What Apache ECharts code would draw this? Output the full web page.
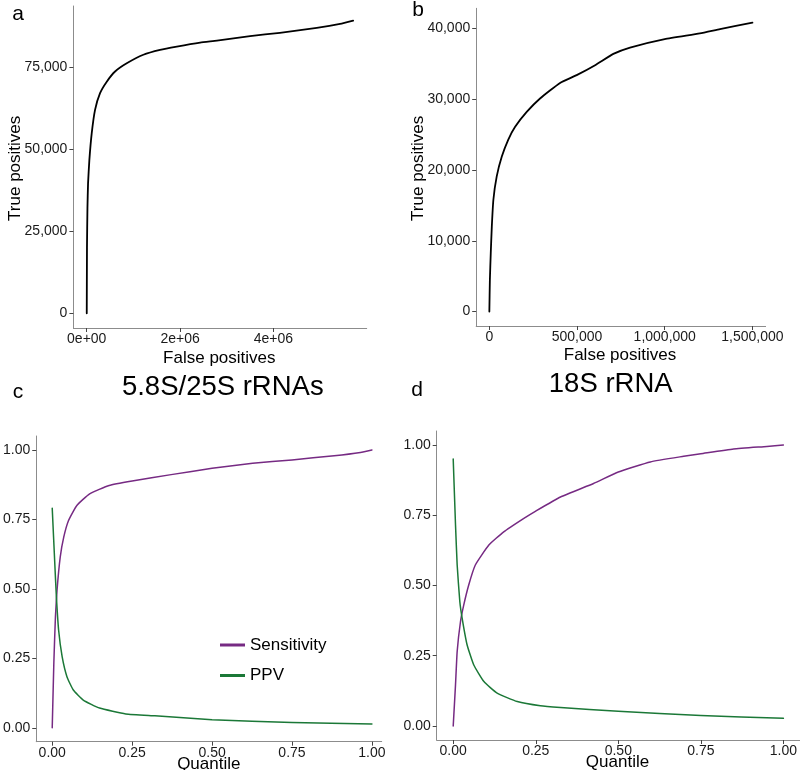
<!DOCTYPE html>
<html>
<head>
<meta charset="utf-8">
<script src="https://cdn.jsdelivr.net/npm/echarts@6/dist/echarts.min.js"></script>
<style>
html,body{margin:0;padding:0;background:#fff;}
#chart{width:800px;height:770px;}
</style>
</head>
<body>
<div id="chart"></div>
<script>
// ---- Panel a: 5.8S/25S rRNAs, true vs false positives ----
const fpA = [0, 5000, 15000, 28000, 56000, 107000, 178000, 285000, 429000, 607000, 857000, 1213000, 1571000, 1930000, 2430000, 2790000, 3500000, 4140000, 4930000, 5430000, 5710000];
const tpA = [0, 20000, 32000, 39600, 46700, 54900, 62000, 67100, 70600, 73700, 76200, 78800, 80300, 81300, 82500, 83100, 84500, 85500, 87000, 88200, 89200];
const xTickValuesA = [0, 2000000, 4000000];
const xTickLabelsA = ['0e+00', '2e+06', '4e+06'];
const yTickValuesA = [0, 25000, 50000, 75000];
const yTickLabelsA = ['0', '25,000', '50,000', '75,000'];

// ---- Panel b: 18S rRNA, true vs false positives ----
const fpB = [0, 3000, 8000, 14000, 23000, 42000, 71000, 108000, 147000, 213000, 289000, 403000, 498000, 603000, 707000, 802000, 1000000, 1200000, 1315000, 1500000];
const tpB = [0, 4500, 8250, 12000, 15800, 19100, 21900, 24300, 26100, 28200, 30100, 32300, 33400, 34800, 36400, 37300, 38500, 39300, 39900, 40800];
const xTickValuesB = [0, 500000, 1000000, 1500000];
const xTickLabelsB = ['0', '500,000', '1,000,000', '1,500,000'];
const yTickValuesB = [0, 10000, 20000, 30000, 40000];
const yTickLabelsB = ['0', '10,000', '20,000', '30,000', '40,000'];

// ---- Panel c: 5.8S/25S rRNAs, sensitivity & PPV by quantile ----
const qSensC = [0, 0.005, 0.010, 0.015, 0.025, 0.036, 0.051, 0.077, 0.117, 0.178, 0.25, 0.372, 0.5, 0.627, 0.75, 0.882, 0.964, 1.0];
const sensC  = [0, 0.232, 0.399, 0.495, 0.614, 0.686, 0.746, 0.800, 0.842, 0.872, 0.888, 0.911, 0.934, 0.952, 0.964, 0.979, 0.991, 1.0];
const qPpvC  = [0, 0.008, 0.013, 0.02, 0.031, 0.046, 0.066, 0.097, 0.148, 0.23, 0.321, 0.5, 0.75, 1.0];
const ppvC   = [0.79, 0.591, 0.471, 0.351, 0.256, 0.184, 0.136, 0.100, 0.071, 0.050, 0.043, 0.029, 0.019, 0.014];

// ---- Panel d: 18S rRNA, sensitivity & PPV by quantile ----
const qSensD = [0, 0.007, 0.012, 0.022, 0.032, 0.047, 0.067, 0.108, 0.153, 0.214, 0.25, 0.325, 0.425, 0.5, 0.597, 0.698, 0.75, 0.849, 0.95, 1.0];
const sensD  = [0, 0.147, 0.265, 0.371, 0.431, 0.502, 0.573, 0.644, 0.691, 0.739, 0.765, 0.815, 0.863, 0.904, 0.940, 0.960, 0.969, 0.986, 0.995, 1.0];
const qPpvD  = [0, 0.007, 0.012, 0.02, 0.027, 0.042, 0.062, 0.093, 0.133, 0.194, 0.264, 0.325, 0.5, 0.75, 1.0];
const ppvD   = [0.95, 0.715, 0.573, 0.443, 0.384, 0.289, 0.218, 0.158, 0.117, 0.087, 0.072, 0.066, 0.052, 0.037, 0.027];

const qTickValues = [0, 0.25, 0.5, 0.75, 1];
const qTickLabels = ['0.00', '0.25', '0.50', '0.75', '1.00'];

const seriesNames = ['Sensitivity', 'PPV'];
const panelLetters = ['a', 'b', 'c', 'd'];
const panelTitles = ['5.8S/25S rRNAs', '18S rRNA'];
const axisTitles = ['False positives', 'True positives', 'Quantile'];

const FONT = "'Liberation Sans', Arial, Helvetica, sans-serif";
const PURPLE = '#762a83';
const GREEN = '#1b7837';

function pairs(xs, ys) { return xs.map((x, i) => [x, ys[i]]); }
function labeler(vals, labs) {
  return function (v) {
    for (let i = 0; i < vals.length; i++) {
      if (Math.abs(vals[i] - v) < 1e-9 * Math.max(1, Math.abs(vals[i]))) return labs[i];
    }
    return '';
  };
}
function axis(gridIndex, min, max, vals, labs, isY) {
  return {
    type: 'value', gridIndex, min, max,
    axisLine: { show: true, onZero: false, lineStyle: { color: '#8c8c8c', width: 1 } },
    axisTick: { show: true, length: 4, customValues: vals, lineStyle: { color: '#444', width: 1 } },
    axisLabel: { show: true, customValues: vals, formatter: labeler(vals, labs), margin: isY ? 6 : 4,
                 color: '#1a1a1a', fontSize: 14, fontFamily: FONT },
    splitLine: { show: false }
  };
}

const grids = [
  { left: 73.4, top: 6, width: 293.3, height: 322 },
  { left: 476.2, top: 8.3, width: 289.4, height: 317.7 },
  { left: 29.3, top: 436, width: 352.4, height: 305.7 },
  { left: 436.7, top: 431, width: 363.3, height: 309 }
];

const xAxes = [
  axis(0, -286000, 6000000, xTickValuesA, xTickLabelsA, false),
  axis(1, -75000, 1575000, xTickValuesB, xTickLabelsB, false),
  axis(2, -0.05, 1.0306, qTickValues, qTickLabels, false),
  axis(3, -0.05, 1.05, qTickValues, qTickLabels, false)
];
const yAxes = [
  axis(0, -4460, 93660, yTickValuesA, yTickLabelsA, true),
  axis(1, -2040, 42840, yTickValuesB, yTickLabelsB, true),
  axis(2, -0.05, 1.05, qTickValues, qTickLabels, true),
  axis(3, -0.05, 1.05, qTickValues, qTickLabels, true)
];

function lineSeries(name, xi, data, color, width) {
  return {
    name, type: 'line', xAxisIndex: xi, yAxisIndex: xi, data,
    showSymbol: false, symbol: 'none', smooth: 0.15,
    lineStyle: { color, width, join: 'round', cap: 'round' }, itemStyle: { color },
    silent: true, animation: false
  };
}

const series = [
  lineSeries('TP_a', 0, pairs(fpA, tpA), '#000', 1.8),
  lineSeries('TP_b', 1, pairs(fpB, tpB), '#000', 1.8),
  lineSeries(seriesNames[0], 2, pairs(qSensC, sensC), PURPLE, 1.5),
  lineSeries(seriesNames[1], 2, pairs(qPpvC, ppvC), GREEN, 1.5),
  lineSeries(seriesNames[0], 3, pairs(qSensD, sensD), PURPLE, 1.5),
  lineSeries(seriesNames[1], 3, pairs(qPpvD, ppvD), GREEN, 1.5)
];

function txt(text, x, y, size, rot) {
  return {
    type: 'text', x, y, rotation: rot || 0, silent: true,
    style: { text, fontSize: size, fontFamily: FONT, fill: '#000', align: 'center', verticalAlign: 'middle' }
  };
}

const graphics = [
  txt(panelLetters[0], 18, 14, 21),
  txt(panelLetters[1], 418, 10, 21),
  txt(panelLetters[2], 18, 392, 21),
  txt(panelLetters[3], 417, 390, 21),
  txt(panelTitles[0], 222.8, 387, 27.5),
  txt(panelTitles[1], 610.7, 384, 27.5),
  txt(axisTitles[0], 219.3, 358, 17),
  txt(axisTitles[0], 620, 355, 17),
  txt(axisTitles[1], 15, 168.3, 17, Math.PI / 2),
  txt(axisTitles[1], 418.3, 168.3, 17, Math.PI / 2),
  txt(axisTitles[2], 208.8, 764, 17),
  txt(axisTitles[2], 617.5, 762, 17)
];

const chart = echarts.init(document.getElementById('chart'), null, { renderer: 'canvas' });
chart.setOption({
  backgroundColor: '#fff',
  animation: false,
  textStyle: { fontFamily: FONT },
  grid: grids,
  xAxis: xAxes,
  yAxis: yAxes,
  legend: {
    data: seriesNames, orient: 'vertical', left: 220, top: 636.5, padding: 0,
    itemWidth: 25, itemHeight: 3, itemGap: 13.5, icon: 'rect',
    selectedMode: false,
    textStyle: { fontSize: 17, fontFamily: FONT, color: '#000' }
  },
  series,
  graphic: graphics
});
</script>
</body>
</html>
